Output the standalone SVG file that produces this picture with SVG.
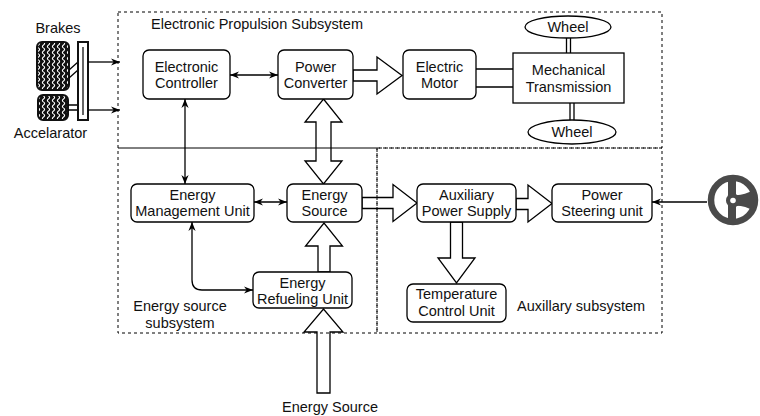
<svg xmlns="http://www.w3.org/2000/svg" width="760" height="416" viewBox="0 0 760 416">
<defs>
<style>
.box{fill:#fff;stroke:#000;stroke-width:1.3}
.frame{fill:none;stroke:#000;stroke-width:1;stroke-dasharray:3 3}
.blk{fill:#fff;stroke:#000;stroke-width:1.3;stroke-linejoin:miter}
.ln{fill:none;stroke:#000;stroke-width:1.3}
text{font-family:"Liberation Sans",Arial,sans-serif;font-size:14.5px;fill:#111}
.c{text-anchor:middle}
</style>
<marker id="ah" viewBox="0 0 10 10" refX="10" refY="5" markerWidth="9" markerHeight="9" markerUnits="userSpaceOnUse" orient="auto-start-reverse">
<path d="M0,1 L10,5 L0,9 L3,5 z" fill="#000"/>
</marker>
<pattern id="tread" width="5" height="6" patternUnits="userSpaceOnUse" x="1" y="0">
<rect width="5" height="6" fill="#111"/>
<path d="M2.5,0 q2.2,1.5 0,3 q-2.2,1.5 0,3" fill="none" stroke="#fff" stroke-width="1.1"/>
</pattern>
</defs>
<rect width="760" height="416" fill="#fff"/>

<g id="pedals">
<rect x="37" y="42" width="32" height="48" rx="5" fill="url(#tread)" stroke="#111" stroke-width="2"/>
<rect x="38" y="95" width="30" height="25" rx="5" fill="url(#tread)" stroke="#111" stroke-width="2"/>
<path d="M69,70 L78,62 M69,78 L78,70" class="ln" stroke-width="1.8"/>
<path d="M68,105 H78 M68,110 H78" class="ln" stroke-width="1.8"/>
<rect x="78" y="42" width="10" height="78" fill="#fff" stroke="#111" stroke-width="2"/>
<line x1="83" y1="47" x2="83" y2="115" stroke="#111" stroke-width="1.3"/>
<text class="c" x="58" y="33">Brakes</text>
<text class="c" x="50.5" y="138">Accelarator</text>
</g>

<g id="steering-wheel">
<circle cx="733" cy="200" r="22" fill="none" stroke="#4a4a4a" stroke-width="6.5"/>
<rect x="728" y="178" width="8" height="44" fill="#4a4a4a"/>
<path d="M733,195 Q744,196 753,190 L754,211 Q744,205 733,206 z" fill="#4a4a4a"/>
<circle cx="733" cy="200.5" r="7" fill="#4a4a4a"/>
<circle cx="733" cy="200.5" r="2.8" fill="#fff"/>
</g>

<g id="connectors">
<line class="ln" x1="88" y1="62" x2="120" y2="62" marker-end="url(#ah)"/>
<line class="ln" x1="88" y1="110" x2="120" y2="110" marker-end="url(#ah)"/>
<line class="ln" x1="230" y1="75" x2="278" y2="75" marker-start="url(#ah)" marker-end="url(#ah)"/>
<line class="ln" x1="185" y1="99" x2="185" y2="184" marker-start="url(#ah)" marker-end="url(#ah)"/>
<line class="ln" x1="254" y1="202" x2="287" y2="202" marker-start="url(#ah)" marker-end="url(#ah)"/>
<path class="ln" d="M192,222 V280 Q192,290 202,290 H253" marker-start="url(#ah)" marker-end="url(#ah)"/>
<line class="ln" x1="707" y1="202" x2="652" y2="202" marker-end="url(#ah)"/>
<path class="ln" d="M476,69 H513 M476,87 H513"/>
<path class="ln" d="M566.5,38 V53 M570.5,38 V53"/>
<path class="ln" d="M570,103 V120 M574,103 V120"/>
<polygon class="blk" points="353,70 377,70 377,57 402,75.5 377,94 377,81 353,81"/>
<polygon class="blk" points="323.5,99 342,122 331,122 331,161 342,161 323.5,184 305,161 316,161 316,122 305,122"/>
<polygon class="blk" points="362,197.5 393,197.5 393,184.5 417,203 393,221.5 393,208.5 362,208.5"/>
<polygon class="blk" points="516,198.5 528,198.5 528,185 552,203.5 528,222 528,209.5 516,209.5"/>
<polygon class="blk" points="450.5,222 462.5,222 462.5,258 475,258 456.5,283 438,258 450.5,258"/>
<polygon class="blk" points="318,272 318,246 305.5,246 324,223 342.5,246 330,246 330,272"/>
<polygon class="blk" points="317,393 317,332 304,332 323.5,309 343,332 330,332 330,393"/>
</g>

<g id="frames">
<rect class="frame" x="118" y="12" width="544" height="136"/>
<rect class="frame" x="118" y="148" width="259" height="185"/>
<rect class="frame" x="377" y="148" width="285" height="185"/>
<text x="151" y="29">Electronic Propulsion Subsystem</text>
<text class="c" x="180" y="311">Energy source</text>
<text class="c" x="180" y="328">subsystem</text>
<text x="517" y="311">Auxillary subsystem</text>
</g>

<g id="electronic-controller">
<rect class="box" x="143" y="50" width="87" height="49" rx="6"/>
<text class="c" x="186.5" y="72">Electronic</text>
<text class="c" x="186.5" y="88">Controller</text>
</g>
<g id="power-converter">
<rect class="box" x="278" y="50" width="75" height="49" rx="6"/>
<text class="c" x="315.5" y="72">Power</text>
<text class="c" x="315.5" y="88">Converter</text>
</g>
<g id="electric-motor">
<rect class="box" x="403" y="50" width="73" height="49" rx="6"/>
<text class="c" x="439.5" y="72">Electric</text>
<text class="c" x="439.5" y="88">Motor</text>
</g>
<g id="mechanical-transmission">
<rect class="box" x="513" y="53" width="111" height="50"/>
<text class="c" x="568.5" y="75">Mechanical</text>
<text class="c" x="568.5" y="92">Transmission</text>
</g>
<g id="wheel-top">
<ellipse class="box" cx="568" cy="27" rx="43" ry="11"/>
<text class="c" x="568" y="32">Wheel</text>
</g>
<g id="wheel-bottom">
<ellipse class="box" cx="572" cy="132" rx="44" ry="12"/>
<text class="c" x="572" y="137">Wheel</text>
</g>
<g id="energy-management-unit">
<rect class="box" x="131" y="184" width="123" height="38" rx="6"/>
<text class="c" x="192.5" y="200">Energy</text>
<text class="c" x="192.5" y="216">Management Unit</text>
</g>
<g id="energy-source">
<rect class="box" x="287" y="184" width="75" height="38" rx="6"/>
<text class="c" x="324.5" y="200">Energy</text>
<text class="c" x="324.5" y="216">Source</text>
</g>
<g id="energy-refueling-unit">
<rect class="box" x="253" y="272" width="99" height="36" rx="6"/>
<text class="c" x="302.5" y="288">Energy</text>
<text class="c" x="302.5" y="304">Refueling Unit</text>
</g>
<g id="auxiliary-power-supply">
<rect class="box" x="417" y="184" width="99" height="38" rx="6"/>
<text class="c" x="466.5" y="200">Auxiliary</text>
<text class="c" x="466.5" y="216">Power Supply</text>
</g>
<g id="power-steering-unit">
<rect class="box" x="552" y="184" width="100" height="38" rx="6"/>
<text class="c" x="602" y="200">Power</text>
<text class="c" x="602" y="216">Steering unit</text>
</g>
<g id="temperature-control-unit">
<rect class="box" x="407" y="284" width="99" height="38" rx="6"/>
<text class="c" x="456.5" y="299">Temperature</text>
<text class="c" x="456.5" y="316">Control Unit</text>
</g>
<g id="energy-source-input">
<text class="c" x="330" y="412">Energy Source</text>
</g>
</svg>
